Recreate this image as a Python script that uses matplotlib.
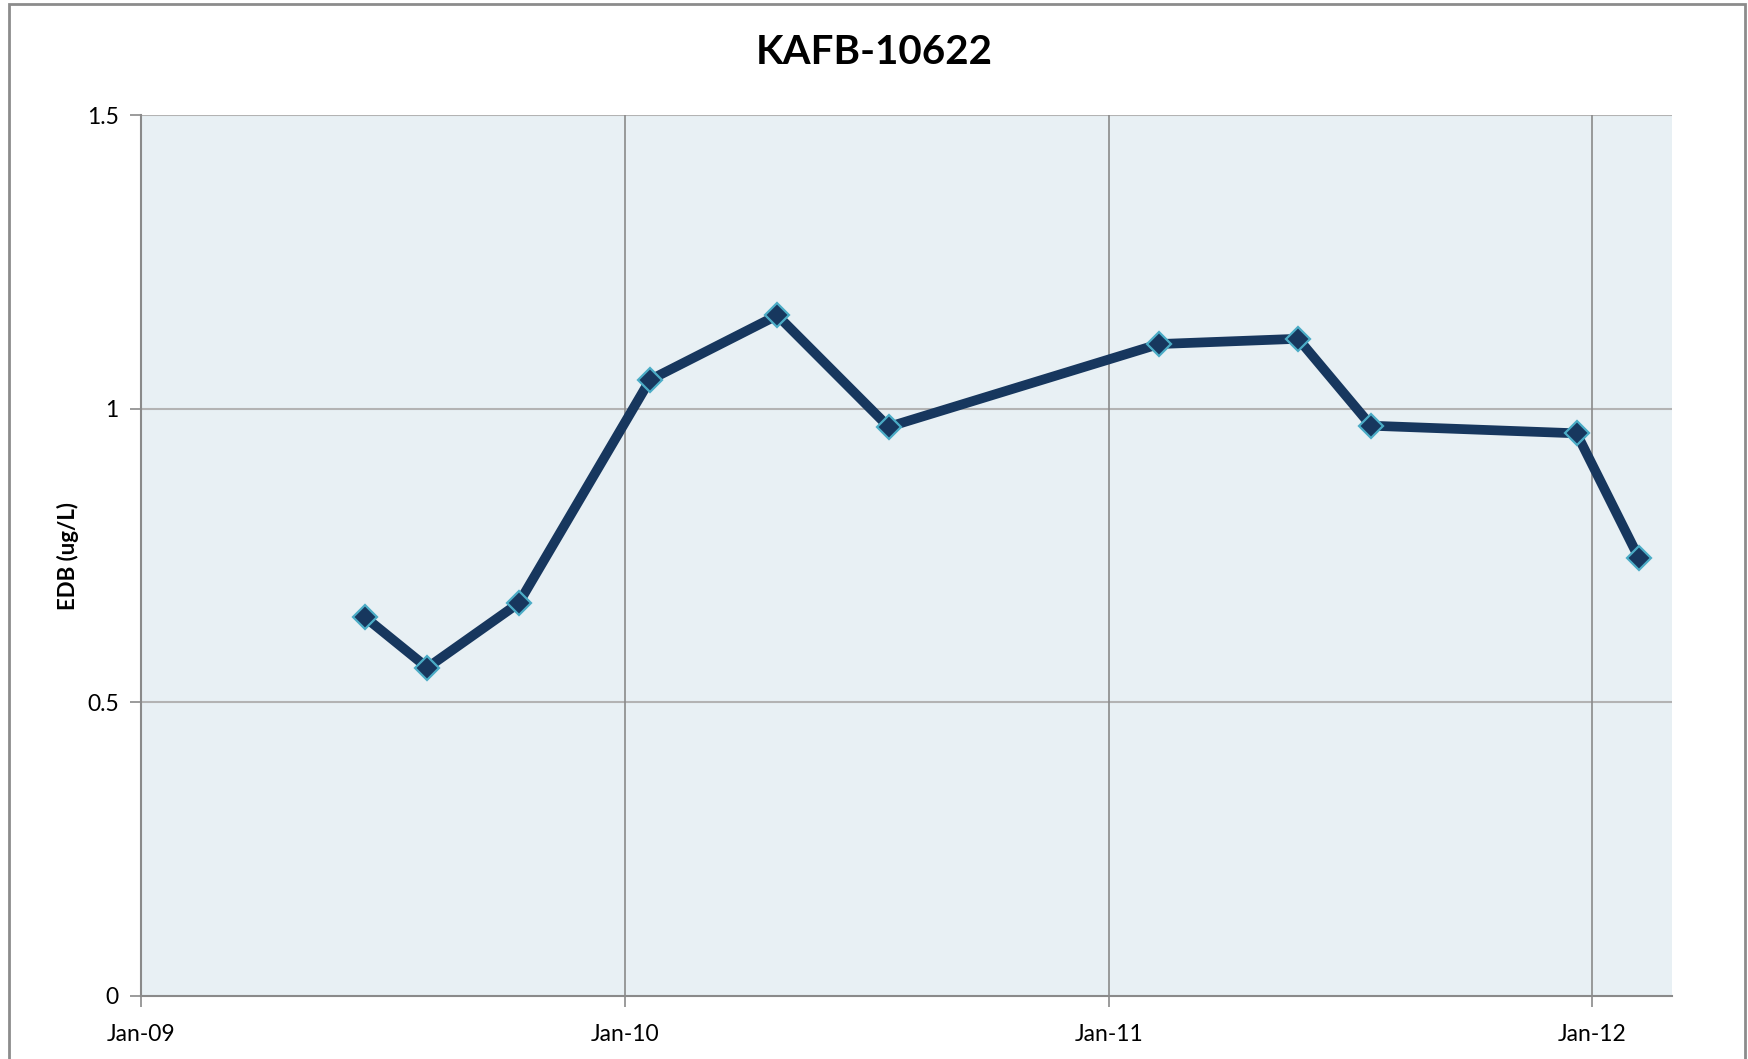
import pandas as pd
import matplotlib
matplotlib.use('Agg')
import matplotlib.pyplot as plt
from matplotlib.patches import Rectangle

plt.rcParams['font.family'] = ['Lato', 'DejaVu Sans']

# sample dates and EDB concentrations (ug/L)
dates = pd.to_datetime(['2009-06-19', '2009-08-05', '2009-10-13', '2010-01-20',
                        '2010-04-26', '2010-07-19', '2011-02-08', '2011-05-24',
                        '2011-07-18', '2011-12-20', '2012-02-05'])
edb = [0.645, 0.559, 0.669, 1.049, 1.159, 0.969, 1.110, 1.119, 0.971, 0.958, 0.746]

x_ticks = pd.to_datetime(['2009-01-01', '2010-01-01', '2011-01-01', '2012-01-01'])
x_labels = ['Jan-09', 'Jan-10', 'Jan-11', 'Jan-12']
x_max = pd.Timestamp('2012-03-01')
y_ticks = [0, 0.5, 1, 1.5]
y_labels = ['0', '0.5', '1', '1.5']

fig = plt.figure(figsize=(17.48, 10.59), dpi=100)
fig.patches.append(Rectangle((9 / 1748, -0.05), (1745 - 9) / 1748, 1.05 - 4 / 1059,
                             transform=fig.transFigure, fill=False,
                             edgecolor='#8c8c8c', linewidth=2))

ax = fig.add_axes([141 / 1748, 1 - 996 / 1059, (1672 - 141) / 1748, (996 - 115) / 1059])
ax.set_facecolor('#e8f0f4')

ax.plot(dates, edb, color='#17375e', linewidth=7, marker='D', markersize=12.5,
        markerfacecolor='#17375e', markeredgecolor='#4bacc6', markeredgewidth=1.6,
        solid_joinstyle='miter', zorder=3)

ax.set_xlim(x_ticks[0], x_max)
ax.set_ylim(0, 1.5)
ax.set_xticks(x_ticks)
ax.set_xticklabels(x_labels, fontsize=16.5)
ax.set_yticks(y_ticks)
ax.set_yticklabels(y_labels, fontsize=16.5)

# gridlines: horizontal lighter, vertical darker
for y in y_ticks[1:]:
    ax.axhline(y, color='#b3b3b3', linewidth=1.5, zorder=1)
for d in x_ticks[1:]:
    ax.axvline(d, color='#8a8a8a', linewidth=1.2, zorder=1)

for s in ['top', 'right']:
    ax.spines[s].set_visible(False)
for s in ['left', 'bottom']:
    ax.spines[s].set_color('#8a8a8a')
    ax.spines[s].set_linewidth(1.5)
ax.tick_params(axis='both', direction='out', length=8, width=1.2, color='#8a8a8a')
ax.tick_params(axis='x', pad=12)
ax.tick_params(axis='y', pad=8)

ax.set_ylabel('EDB (ug/L)', fontsize=16, fontweight='bold', labelpad=6)
fig.text(0.5, 1 - 52 / 1059, 'KAFB-10622', ha='center', va='center',
         fontsize=29, fontweight='bold')

fig.savefig('out.png', dpi=100)
